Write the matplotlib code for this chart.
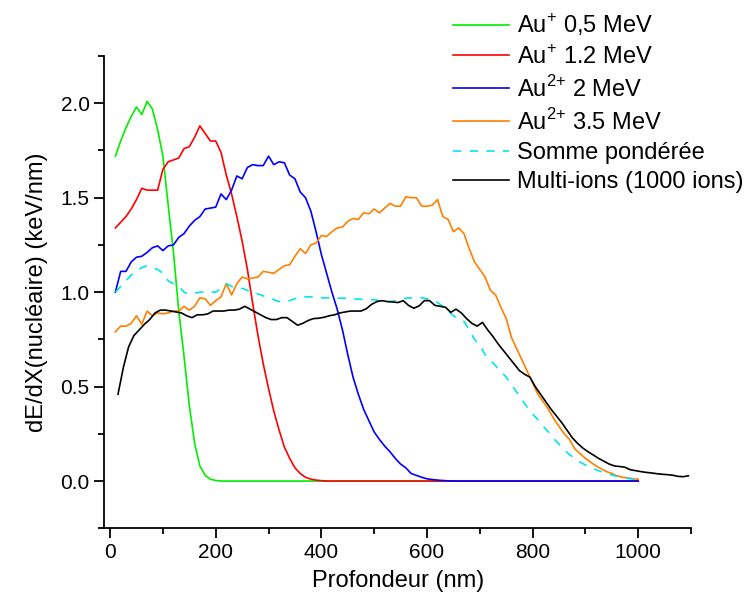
import numpy as np
import matplotlib
matplotlib.use('Agg')
import matplotlib.pyplot as plt
from matplotlib.ticker import MultipleLocator

plt.rcParams['font.family'] = ['Liberation Sans', 'DejaVu Sans']
plt.rcParams['mathtext.fontset'] = 'custom'
plt.rcParams['mathtext.rm'] = 'Liberation Sans'

# depth grid (nm) for the individual ions
x_ion = np.arange(10, 1001, 10)

# Au+ 0.5 MeV
green = [1.72, 1.80, 1.87, 1.93, 1.98, 1.94, 2.01, 1.97, 1.86, 1.72,
         1.46, 1.21, 0.90, 0.66, 0.40, 0.20, 0.08, 0.03, 0.01, 0.003] + [0.0] * 80

# Au+ 1.2 MeV
red = [1.34, 1.37, 1.40, 1.44, 1.49, 1.55, 1.54, 1.54, 1.54, 1.65,
       1.69, 1.70, 1.71, 1.76, 1.77, 1.82, 1.88, 1.84, 1.80, 1.80,
       1.74, 1.62, 1.52, 1.40, 1.27, 1.12, 0.94, 0.77, 0.62, 0.49,
       0.37, 0.27, 0.18, 0.12, 0.07, 0.04, 0.02, 0.01, 0.005, 0.002] + [0.0] * 60

# Au2+ 2 MeV
blue = [1.00, 1.11, 1.11, 1.16, 1.185, 1.19, 1.21, 1.235, 1.245, 1.22,
        1.245, 1.25, 1.29, 1.31, 1.35, 1.38, 1.40, 1.44, 1.445, 1.45,
        1.52, 1.49, 1.54, 1.615, 1.60, 1.66, 1.675, 1.67, 1.67, 1.72,
        1.675, 1.69, 1.685, 1.62, 1.60, 1.53, 1.50, 1.43, 1.32, 1.20,
        1.10, 1.00, 0.91, 0.80, 0.67, 0.55, 0.46, 0.38, 0.32, 0.26,
        0.22, 0.185, 0.155, 0.12, 0.09, 0.07, 0.04, 0.03, 0.02, 0.012,
        0.008, 0.005, 0.003, 0.001] + [0.0] * 36

# Au2+ 3.5 MeV
orange = [0.79, 0.82, 0.82, 0.835, 0.875, 0.83, 0.90, 0.875, 0.89, 0.885,
          0.89, 0.90, 0.90, 0.925, 0.905, 0.925, 0.97, 0.965, 0.93, 0.955,
          0.975, 1.045, 0.985, 1.045, 1.08, 1.07, 1.075, 1.08, 1.11, 1.105,
          1.10, 1.12, 1.14, 1.145, 1.19, 1.23, 1.205, 1.25, 1.26, 1.30,
          1.295, 1.32, 1.34, 1.345, 1.375, 1.39, 1.385, 1.42, 1.415, 1.44,
          1.42, 1.445, 1.47, 1.455, 1.455, 1.505, 1.50, 1.50, 1.455, 1.455,
          1.46, 1.49, 1.40, 1.385, 1.32, 1.34, 1.31, 1.23, 1.16, 1.12,
          1.08, 1.01, 0.985, 0.92, 0.86, 0.76, 0.70, 0.64, 0.58, 0.52,
          0.46, 0.42, 0.38, 0.33, 0.29, 0.25, 0.22, 0.17, 0.145, 0.12,
          0.10, 0.08, 0.065, 0.05, 0.04, 0.028, 0.02, 0.017, 0.012, 0.01]

# weighted sum
cyan = [1.00, 1.03, 1.06, 1.09, 1.11, 1.13, 1.14, 1.13, 1.12, 1.10,
        1.06, 1.045, 1.03, 1.00, 0.99, 0.995, 1.00, 1.00, 1.00, 1.00,
        1.02, 1.045, 1.03, 1.02, 1.02, 1.01, 0.995, 0.99, 0.98, 0.975,
        0.96, 0.95, 0.95, 0.955, 0.965, 0.975, 0.975, 0.975, 0.975, 0.97,
        0.97, 0.968, 0.968, 0.968, 0.968, 0.965, 0.963, 0.962, 0.96, 0.96,
        0.955, 0.952, 0.95, 0.955, 0.962, 0.968, 0.97, 0.973, 0.97, 0.965,
        0.96, 0.945, 0.925, 0.90, 0.875, 0.86, 0.845, 0.80, 0.75, 0.72,
        0.67, 0.64, 0.61, 0.58, 0.55, 0.51, 0.47, 0.43, 0.39, 0.355,
        0.325, 0.29, 0.26, 0.225, 0.195, 0.165, 0.14, 0.12, 0.10, 0.085,
        0.07, 0.06, 0.05, 0.04, 0.032, 0.025, 0.02, 0.015, 0.01, 0.005]

# multi-ions simulation (1000 ions)
x_multi = np.arange(15, 1100, 10)
black = [0.46, 0.60, 0.71, 0.77, 0.80, 0.83, 0.855, 0.89, 0.905, 0.905,
         0.90, 0.895, 0.89, 0.875, 0.865, 0.88, 0.88, 0.885, 0.90, 0.90,
         0.90, 0.905, 0.905, 0.91, 0.925, 0.91, 0.895, 0.88, 0.865, 0.855,
         0.855, 0.865, 0.865, 0.845, 0.825, 0.835, 0.85, 0.86, 0.862, 0.867,
         0.875, 0.88, 0.89, 0.895, 0.90, 0.90, 0.90, 0.912, 0.935, 0.95,
         0.955, 0.95, 0.948, 0.945, 0.955, 0.93, 0.915, 0.927, 0.955, 0.955,
         0.93, 0.925, 0.92, 0.893, 0.91, 0.89, 0.86, 0.835, 0.82, 0.84,
         0.80, 0.765, 0.725, 0.69, 0.655, 0.62, 0.585, 0.565, 0.55, 0.50,
         0.46, 0.42, 0.38, 0.345, 0.31, 0.27, 0.23, 0.20, 0.175, 0.155,
         0.138, 0.12, 0.105, 0.09, 0.08, 0.077, 0.073, 0.06, 0.055, 0.05,
         0.046, 0.043, 0.039, 0.036, 0.034, 0.031, 0.025, 0.023, 0.028]

labels = [r'Au$^{+}$ 0,5 MeV', r'Au$^{+}$ 1.2 MeV', r'Au$^{2\!+}\!$ 2 MeV',
          r'Au$^{2\!+}\!$ 3.5 MeV', 'Somme pondérée', 'Multi-ions (1000 ions)']

fig = plt.figure(figsize=(7.53, 6.03), dpi=100)
ax = fig.add_axes([0.1385, 0.1239, 0.7792, 0.7832])

lw = 1.2
ax.plot(x_ion, green, color='#00ee00', lw=lw, label=labels[0])
ax.plot(x_ion, red, color='#ff0000', lw=lw, label=labels[1])
ax.plot(x_ion, blue, color='#0000ff', lw=lw, label=labels[2])
ax.plot(x_ion, orange, color='#ff8000', lw=lw, label=labels[3])
ax.plot(x_ion, cyan, color='#00e5ee', lw=lw, ls=(0, (5, 5)), label=labels[4])
ax.plot(x_multi, black, color='black', lw=lw, label=labels[5])

ax.set_xlim(-11, 1100)
ax.set_ylim(-0.25, 2.25)
ax.xaxis.set_major_locator(MultipleLocator(200))
ax.xaxis.set_minor_locator(MultipleLocator(100))
ax.yaxis.set_major_locator(MultipleLocator(0.5))
ax.yaxis.set_minor_locator(MultipleLocator(0.25))
ax.yaxis.set_major_formatter(matplotlib.ticker.FormatStrFormatter('%.1f'))

for s in ['top', 'right']:
    ax.spines[s].set_visible(False)
for s in ['left', 'bottom']:
    ax.spines[s].set_linewidth(1.3)

ax.tick_params(which='major', length=7, width=1.3, labelsize=15, direction='out')
ax.tick_params(which='minor', length=4, width=1.3, direction='out')

ax.set_xlabel('Profondeur (nm)', fontsize=17, labelpad=6)
ax.set_ylabel('dE/dX(nucléaire) (keV/nm)', fontsize=17, labelpad=9)

fig.legend(loc='upper left', bbox_to_anchor=(444 / 753, 1 - 2 / 603),
           frameon=False, fontsize=17, handlelength=2.35, handletextpad=0.35,
           labelspacing=0.3, borderaxespad=0)

fig.savefig('out.png', dpi=100)
